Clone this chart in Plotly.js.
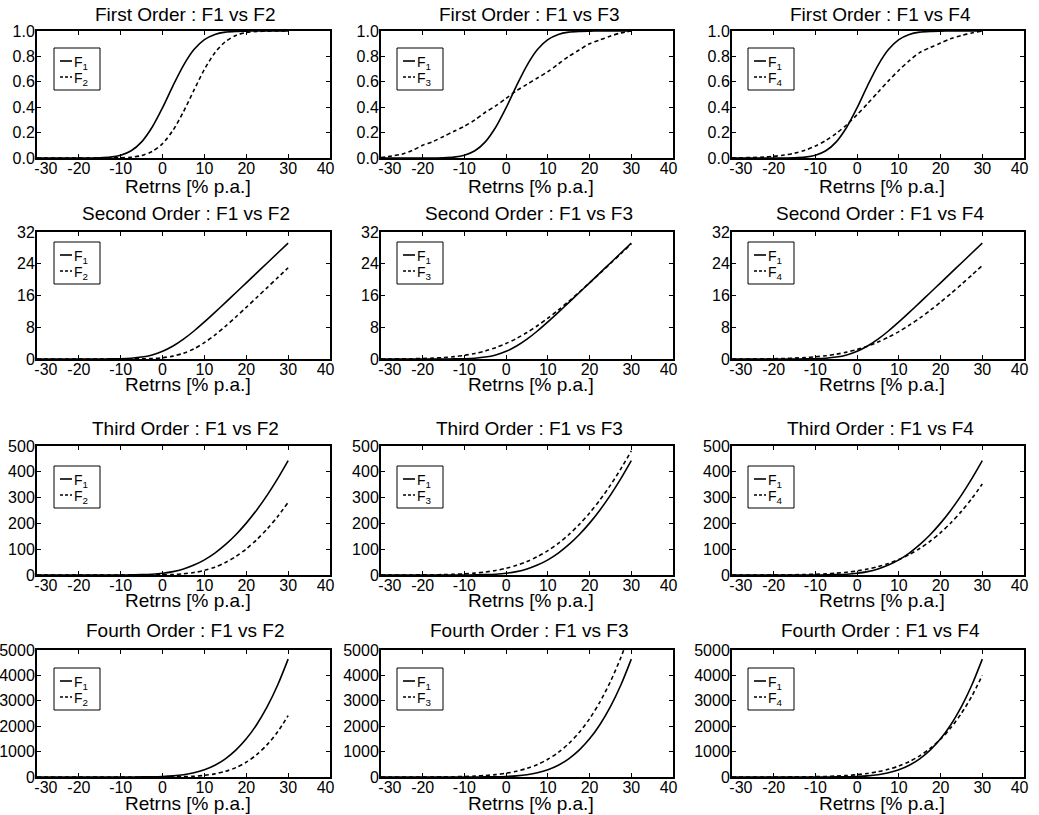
<!DOCTYPE html>
<html><head><meta charset="utf-8">
<script src="https://cdn.plot.ly/plotly-3.0.1.min.js"></script>
<style>html,body{margin:0;padding:0;background:#fff}#chart{width:1039px;height:815px}</style>
</head><body><div id="chart"></div>
<script>
// Returns grid [% p.a.]
const returns = [-30,-27.5,-25,-22.5,-20,-17.5,-15,-12.5,-10,-7.5,-5,-2.5,0,2.5,5,7.5,10,12.5,15,17.5,20,22.5,25,27.5,30];

// First order (CDF)
const f1_first = [0,0,0,0,0.0001,0.0004,0.002,0.007,0.022,0.057,0.127,0.242,0.396,0.570,0.730,0.854,0.932,0.973,0.991,0.997,0.999,1,1,1,1];
const f2_first = [0,0,0,0,0,0,0.0001,0.0004,0.0017,0.0062,0.0193,0.0507,0.1137,0.219,0.365,0.534,0.698,0.829,0.916,0.965,0.988,0.996,0.999,1,1];
const f3_first = [0.003,0.015,0.03,0.06,0.10,0.13,0.17,0.21,0.25,0.30,0.36,0.41,0.47,0.53,0.58,0.63,0.68,0.74,0.80,0.85,0.90,0.93,0.96,0.985,1.0];
const f4_first = [0.001,0.002,0.004,0.007,0.013,0.023,0.038,0.061,0.094,0.138,0.194,0.262,0.341,0.428,0.518,0.607,0.691,0.766,0.830,0.870,0.905,0.940,0.965,0.985,1.0];

// Second order
const f1_second = [0,0,0,0,0,0.001,0.006,0.022,0.071,0.20,0.483,1.028,1.936,3.262,4.996,7.056,9.338,11.746,14.21,16.70,19.20,21.7,24.2,26.7,29.2];
const f2_second = [0,0,0,0,0,0,0,0.0006,0.003,0.0116,0.0405,0.123,0.323,0.726,1.449,2.573,4.116,6.031,8.221,10.579,13.023,15.504,17.999,20.498,23.0];
const f3_second = [0.007,0.017,0.034,0.065,0.120,0.209,0.357,0.588,0.916,1.387,2.026,2.859,3.907,5.179,6.675,8.385,10.281,12.339,14.527,16.822,19.189,21.606,24.056,26.528,29.014];
const f4_second = [0.0066,0.013,0.025,0.045,0.079,0.134,0.223,0.356,0.553,0.832,1.218,1.733,2.401,3.240,4.267,5.489,6.908,8.518,10.304,12.248,14.329,16.522,18.804,21.154,23.555];

// Third order
const f1_third = [0,0,0,0,0,0.0005,0.004,0.037,0.143,0.456,1.268,3.09,6.71,13.12,23.37,38.37,58.82,85.16,117.6,156.2,201.1,252.3,309.6,373.3,443.1];
const f2_third = [0,0,0,0,0,0,0,0,0.003,0.02,0.081,0.267,0.782,2.047,4.689,9.63,17.90,30.52,48.28,71.76,101.2,136.9,178.8,226.9,281.3];
const f3_third = [0.03,0.06,0.124,0.248,0.479,0.86,1.56,2.68,4.56,7.41,11.63,17.69,26.11,37.42,52.19,70.97,94.26,122.5,156.0,195.2,240.3,291.2,348.3,411.5,481.0];
const f4_third = [0.025,0.05,0.097,0.185,0.34,0.606,1.05,1.776,2.864,4.578,7.115,10.774,15.909,22.922,32.266,44.419,59.872,79.124,102.617,130.774,163.97,202.51,246.65,296.58,352.45];

// Fourth order
const f1_fourth = [0,0,0,0,0,0,0.005,0.05,0.28,0.98,2.97,8.13,19.92,44.0,88.7,164.8,285.1,463.8,715.9,1056.9,1502,2068,2769,3621,4640];
const f2_fourth = [0,0,0,0,0,0,0,0,0,0.03,0.13,0.54,1.79,5.07,13.12,30.45,64.05,123.6,220.9,369.8,584.7,881.1,1274.3,1780.1,2415.6];
const f3_fourth = [0.02,0.13,0.36,0.83,1.74,3.41,6.44,11.74,20.25,34.95,58.46,94.67,148.9,227.6,338.8,491.9,697.5,967.3,1314.1,1752.3,2295.6,2958.5,3756.5,4705.0,5819.5];
const f4_fourth = [0.015,0.11,0.29,0.65,1.3,2.48,4.55,8.08,13.39,22.53,36.95,59.05,92.04,140.14,208.58,303.79,433.4,606.4,832.6,1123.3,1490.7,1947.6,2507.9,3185.6,3995.7];

const orderNames = ['First Order','Second Order','Third Order','Fourth Order'];
const compareNames = ['F2','F3','F4'];
const legendF1 = 'F<sub>1</sub>';
const legendOthers = ['F<sub>2</sub>','F<sub>3</sub>','F<sub>4</sub>'];
const xTickVals = [-30,-20,-10,0,10,20,30,40];
const xTickText = ['\u00a0\u00a0\u00a0\u00a0-30','-20','-10','0','10','20','30','40\u00a0\u00a0'];
const yTickVals = [[0,0.2,0.4,0.6,0.8,1.0],[0,8,16,24,32],[0,100,200,300,400,500],[0,1000,2000,3000,4000,5000]];
const yTickText = [['0.0','0.2','0.4','0.6','0.8','1.0'],['0','8','16','24','32'],['0','100','200','300','400','500'],['0','1000','2000','3000','4000','5000']];
const yRanges = [[0,1],[0,32],[0,500],[0,5000]];
const xLabel = 'Retrns [% p.a.]';

const F1 = [f1_first, f1_second, f1_third, f1_fourth];
const OTHERS = [
  [f2_first, f2_second, f2_third, f2_fourth],
  [f3_first, f3_second, f3_third, f3_fourth],
  [f4_first, f4_second, f4_third, f4_fourth]
];

// ---- layout geometry (pixels) ----
const W = 1039, H = 815;
const colLeft = [37, 381, 732], colRight = [330, 673, 1024];
const rowTop = [31, 232, 446, 650], rowBot = [158, 359, 575, 777];
const legTopOff = [17, 10, 20, 18];
const legLeftOff = [17, 16, 16];
const xTitleOff = [28, 26, 25, 26];
const titleOff = [17, 19, 18, 20];
const px = v => v / W;
const py = v => 1 - v / H;

const FONT = 'Liberation Sans, Arial, Helvetica, sans-serif';
const traces = [];
const shapes = [];
const annotations = [];
const layout = {
  width: W, height: H,
  margin: {l: 0, r: 0, t: 0, b: 0},
  paper_bgcolor: 'white', plot_bgcolor: 'white',
  font: {family: FONT, color: 'black', size: 16},
  showlegend: false
};

for (let r = 0; r < 4; r++) {
  for (let c = 0; c < 3; c++) {
    const k = r * 3 + c + 1;
    const sfx = k === 1 ? '' : String(k);
    const xa = 'x' + sfx, ya = 'y' + sfx;
    traces.push({
      x: returns, y: F1[r], xaxis: xa, yaxis: ya, type: 'scatter', mode: 'lines',
      name: 'F1', showlegend: false, hoverinfo: 'skip',
      line: {color: 'black', width: 1.6, shape: 'spline', smoothing: 0.8}
    });
    traces.push({
      x: returns, y: OTHERS[c][r], xaxis: xa, yaxis: ya, type: 'scatter', mode: 'lines',
      name: compareNames[c], showlegend: false, hoverinfo: 'skip',
      line: {color: 'black', width: 1.6, dash: '4px,3px', shape: 'spline', smoothing: 0.8}
    });
    layout['xaxis' + sfx] = {
      domain: [px(colLeft[c]), px(colRight[c])], anchor: ya, range: [-30, 40],
      tickmode: 'array', tickvals: xTickVals, ticktext: xTickText,
      ticks: 'inside', ticklen: 4, tickwidth: 1, tickcolor: 'black',
      ticklabelstandoff: -5,
      showline: true, linewidth: 2, linecolor: 'black', mirror: 'ticks',
      showgrid: false, zeroline: false, fixedrange: true,
      tickfont: {family: FONT, size: 16, color: 'black'}
    };
    layout['yaxis' + sfx] = {
      domain: [py(rowBot[r]), py(rowTop[r])], anchor: xa, range: yRanges[r],
      tickmode: 'array', tickvals: yTickVals[r], ticktext: yTickText[r],
      ticks: 'inside', ticklen: 4, tickwidth: 1, tickcolor: 'black',
      ticklabelstandoff: -3,
      showline: true, linewidth: 2, linecolor: 'black', mirror: 'ticks',
      showgrid: false, zeroline: false, fixedrange: true,
      tickfont: {family: FONT, size: 16, color: 'black'}
    };
    const cx = (colLeft[c] + colRight[c]) / 2;
    // subplot title
    annotations.push({
      text: orderNames[r] + ' : F1 vs ' + compareNames[c],
      xref: 'paper', yref: 'paper', x: px(cx + 2), y: py(rowTop[r] - titleOff[r]),
      xanchor: 'center', yanchor: 'middle', showarrow: false,
      font: {family: FONT, size: 19, color: 'black'}
    });
    // x axis label
    annotations.push({
      text: xLabel,
      xref: 'paper', yref: 'paper', x: px(cx + 4), y: py(rowBot[r] + xTitleOff[r]),
      xanchor: 'center', yanchor: 'middle', showarrow: false,
      font: {family: FONT, size: 19, color: 'black'}
    });
    // legend box (drawn in pixel geometry)
    const L = colLeft[c] + legLeftOff[c], T = rowTop[r] + legTopOff[r];
    shapes.push({type: 'rect', xref: 'paper', yref: 'paper', layer: 'above',
      x0: px(L), x1: px(L + 46), y0: py(T), y1: py(T + 42),
      line: {color: 'black', width: 1}, fillcolor: 'white'});
    shapes.push({type: 'line', xref: 'paper', yref: 'paper', layer: 'above',
      x0: px(L + 6), x1: px(L + 18), y0: py(T + 13), y1: py(T + 13),
      line: {color: 'black', width: 1.6}});
    shapes.push({type: 'line', xref: 'paper', yref: 'paper', layer: 'above',
      x0: px(L + 6), x1: px(L + 18), y0: py(T + 29), y1: py(T + 29),
      line: {color: 'black', width: 1.6, dash: '3px,2px'}});
    annotations.push({
      text: legendF1, xref: 'paper', yref: 'paper', x: px(L + 18), y: py(T + 13),
      xanchor: 'left', yanchor: 'middle', yshift: -2, showarrow: false,
      font: {family: FONT, size: 14, color: 'black'}
    });
    annotations.push({
      text: legendOthers[c], xref: 'paper', yref: 'paper', x: px(L + 18), y: py(T + 29),
      xanchor: 'left', yanchor: 'middle', yshift: -2, showarrow: false,
      font: {family: FONT, size: 14, color: 'black'}
    });
  }
}
layout.shapes = shapes;
layout.annotations = annotations;

Plotly.newPlot('chart', traces, layout, {displayModeBar: false, staticPlot: true});
</script>
</body></html>
